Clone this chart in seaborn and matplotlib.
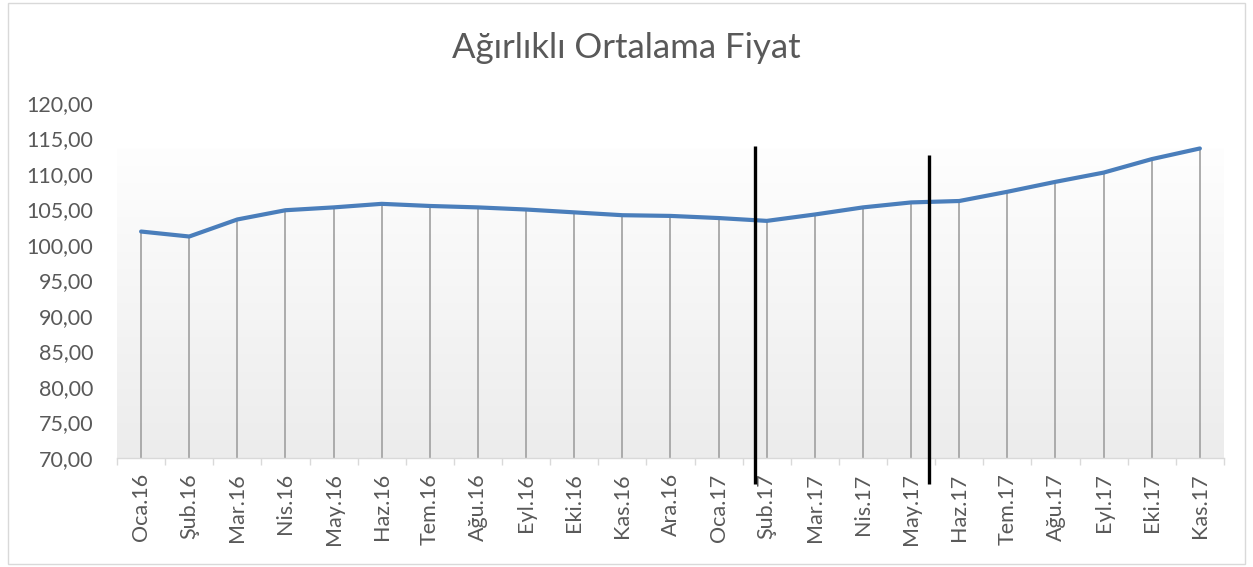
import numpy as np
import pandas as pd
import seaborn as sns
import matplotlib.pyplot as plt
from matplotlib.colors import LinearSegmentedColormap
from matplotlib.patches import Rectangle
from matplotlib.ticker import FuncFormatter, FixedLocator

# Aylar ve ağırlıklı ortalama fiyat değerleri
months = ['Oca.16', 'Şub.16', 'Mar.16', 'Nis.16', 'May.16', 'Haz.16', 'Tem.16',
          'Ağu.16', 'Eyl.16', 'Eki.16', 'Kas.16', 'Ara.16', 'Oca.17', 'Şub.17',
          'Mar.17', 'Nis.17', 'May.17', 'Haz.17', 'Tem.17', 'Ağu.17', 'Eyl.17',
          'Eki.17', 'Kas.17']
prices = [101.9, 101.2, 103.6, 104.9, 105.3, 105.8, 105.5, 105.3, 105.0, 104.6,
          104.2, 104.1, 103.8, 103.4, 104.3, 105.3, 106.0, 106.2, 107.5, 108.9,
          110.2, 112.1, 113.6]
y_ticks = [70, 75, 80, 85, 90, 95, 100, 105, 110, 115, 120]

# Elle çizilmiş dikey işaret çizgileri (kategori ekseni konumu, üst değer)
marker_pos = [12.75, 16.37]
marker_top = [113.9, 112.7]

df = pd.DataFrame({'ay': months, 'fiyat': prices})
df['idx'] = range(len(df))

sns.set_theme(style='white')
plt.rcParams['font.family'] = ['Lato', 'DejaVu Sans']

fig = plt.figure(figsize=(12.53, 5.67), dpi=100)
ax = fig.add_axes([0.0934, 0.1922, 0.8834, 0.6261])

# Arka plan gradyanı (veri alanı): üstte beyaz, altta açık gri
cmap = LinearSegmentedColormap.from_list('g', ['#fefefe', '#ececec'])
grad = np.linspace(0, 1, 256).reshape(-1, 1)
ax.imshow(grad, cmap=cmap, aspect='auto', origin='upper',
          extent=[-0.5, len(months) - 0.5, 70, max(prices)], zorder=0)

# Dikey düşüş çizgileri
ax.vlines(df['idx'], 70, df['fiyat'], color='#a6a6a6', linewidth=1.3, zorder=1)

sns.lineplot(data=df, x='idx', y='fiyat', color='#4a7ebb', linewidth=3.0,
             ax=ax, zorder=3)

ax.vlines(marker_pos, 66.4, marker_top, color='black', linewidth=2.4,
          zorder=4, clip_on=False)

ax.set_xlim(-0.5, len(months) - 0.5)
ax.set_ylim(70, 120)
ax.set_yticks(y_ticks)
ax.yaxis.set_major_formatter(FuncFormatter(lambda v, p: f'{v:.2f}'.replace('.', ',')))
ax.set_xticks(df['idx'])
ax.set_xticklabels(months, rotation=90)
ax.xaxis.set_minor_locator(FixedLocator(np.arange(len(months) + 1) - 0.5))
ax.tick_params(axis='x', which='major', length=0, pad=11, labelsize=15.5,
               labelcolor='#595959')
ax.tick_params(axis='x', which='minor', bottom=True, length=5, width=1,
               color='#d9d9d9')
ax.tick_params(axis='y', length=0, pad=17, labelsize=15.5, labelcolor='#595959')
ax.set_xlabel('')
ax.set_ylabel('')

for s in ['top', 'right', 'left']:
    ax.spines[s].set_visible(False)
ax.spines['bottom'].set_color('#d9d9d9')
ax.spines['bottom'].set_linewidth(1)

fig.text(0.5, 0.915, 'Ağırlıklı Ortalama Fiyat', ha='center', va='center',
         fontsize=25, color='#595959')

# Grafik çerçevesi
fig.patches.append(Rectangle((0.006, 0.006), 0.988, 0.988, transform=fig.transFigure,
                             fill=False, edgecolor='#d9d9d9', linewidth=1))

fig.savefig('out.png', dpi=100)
